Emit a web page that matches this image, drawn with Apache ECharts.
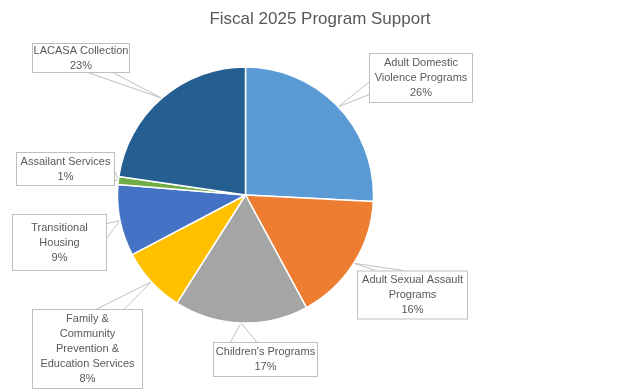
<!DOCTYPE html>
<html>
<head>
<meta charset="utf-8">
<script src="https://cdn.jsdelivr.net/npm/echarts@6/dist/echarts.min.js"></script>
<style>html,body{margin:0;padding:0;background:#fff;}#chart{width:640px;height:391px;}</style>
</head>
<body>
<div id="chart"></div>
<script>
// ---- data ----
var categories = ["Adult Domestic Violence Programs", "Adult Sexual Assault Programs", "Children's Programs",
  "Family & Community Prevention & Education Services", "Transitional Housing", "Assailant Services", "LACASA Collection"];
var labelLines = ["Adult Domestic\nViolence Programs", "Adult Sexual Assault\nPrograms", "Children's Programs",
  "Family &\nCommunity\nPrevention &\nEducation Services", "Transitional\nHousing", "Assailant Services", "LACASA Collection"];
var values = [25.8, 16.3, 16.9, 8.3, 9.0, 1.0, 22.7];
var colors = ["#5B9BD5", "#ED7D31", "#A5A5A5", "#FFC000", "#4472C4", "#70AD47", "#255E91"];
var titleText = "Fiscal 2025 Program Support";

// ---- layout (label box centres and sizes) ----
var pieCenter = [245.5, 195];
var pieRadius = 128;
var boxCenter = [[421, 78], [412.5, 295], [265.5, 359.5], [87.5, 349], [59.5, 242.5], [65.5, 169], [81, 58]];
var boxSize = [[104, 50], [111, 49], [105, 35], [111, 80], [95, 57], [99, 34], [98, 30]];

var chart = echarts.init(document.getElementById('chart'), null, {renderer: 'canvas'});
var font = "Liberation Sans";
var total = values.reduce(function (a, b) { return a + b; }, 0);

function anchorPoint(i) {
  var before = 0;
  for (var k = 0; k < i; k++) before += values[k];
  var frac = (before + values[i] / 2) / total;
  var ang = frac * 2 * Math.PI; // clockwise from top
  return [pieCenter[0] + pieRadius * Math.sin(ang), pieCenter[1] - pieRadius * Math.cos(ang)];
}

// Excel-style wedge callout: base on the box side facing the anchor
function wedgePoints(i) {
  var apex = anchorPoint(i);
  var c = boxCenter[i], w = boxSize[i][0], h = boxSize[i][1];
  var l = c[0] - w / 2, t = c[1] - h / 2;
  var dx = apex[0] - c[0], dy = apex[1] - c[1];
  var b1, b2;
  if (Math.abs(dy * w) > Math.abs(dx * h)) {
    var ey = dy > 0 ? t + h : t;
    b1 = [l + w * (dx > 0 ? 7 : 2) / 12, ey];
    b2 = [l + w * (dx > 0 ? 10 : 5) / 12, ey];
  } else {
    var ex = dx > 0 ? l + w : l;
    b1 = [ex, t + h * (dy > 0 ? 7 : 2) / 12];
    b2 = [ex, t + h * (dy > 0 ? 10 : 5) / 12];
  }
  return [b1, apex, b2];
}

var data = categories.map(function (c, i) {
  return {
    name: c, value: values[i],
    itemStyle: {color: colors[i]},
    label: {width: boxSize[i][0] - 2, height: boxSize[i][1] - 2}
  };
});
chart.setOption({
  animation: false,
  title: {
    text: titleText, left: 'center', top: 6,
    textStyle: {fontFamily: font, fontSize: 17, fontWeight: 'normal', color: '#595959'}
  },
  series: [{
    type: 'pie',
    center: pieCenter,
    radius: pieRadius,
    startAngle: 90,
    clockwise: true,
    avoidLabelOverlap: false,
    percentPrecision: 0,
    itemStyle: {borderColor: '#fff', borderWidth: 1.5},
    label: {
      show: true,
      position: 'outside',
      formatter: function (p) { return labelLines[p.dataIndex] + '\n' + p.percent + '%'; },
      fontFamily: font, fontSize: 11, lineHeight: 15, color: '#595959',
      align: 'center', verticalAlign: 'middle', overflow: 'none',
      backgroundColor: '#fff', borderColor: '#bfbfbf', borderWidth: 1,
      padding: 0
    },
    labelLine: {show: true, length: 10, length2: 10, lineStyle: {color: '#bfbfbf', width: 1}},
    labelLayout: function (p) {
      var c = boxCenter[p.dataIndex];
      return {x: c[0], y: c[1], align: 'center', verticalAlign: 'middle',
        labelLinePoints: wedgePoints(p.dataIndex)};
    },
    data: data
  }]
});
</script>
</body>
</html>
